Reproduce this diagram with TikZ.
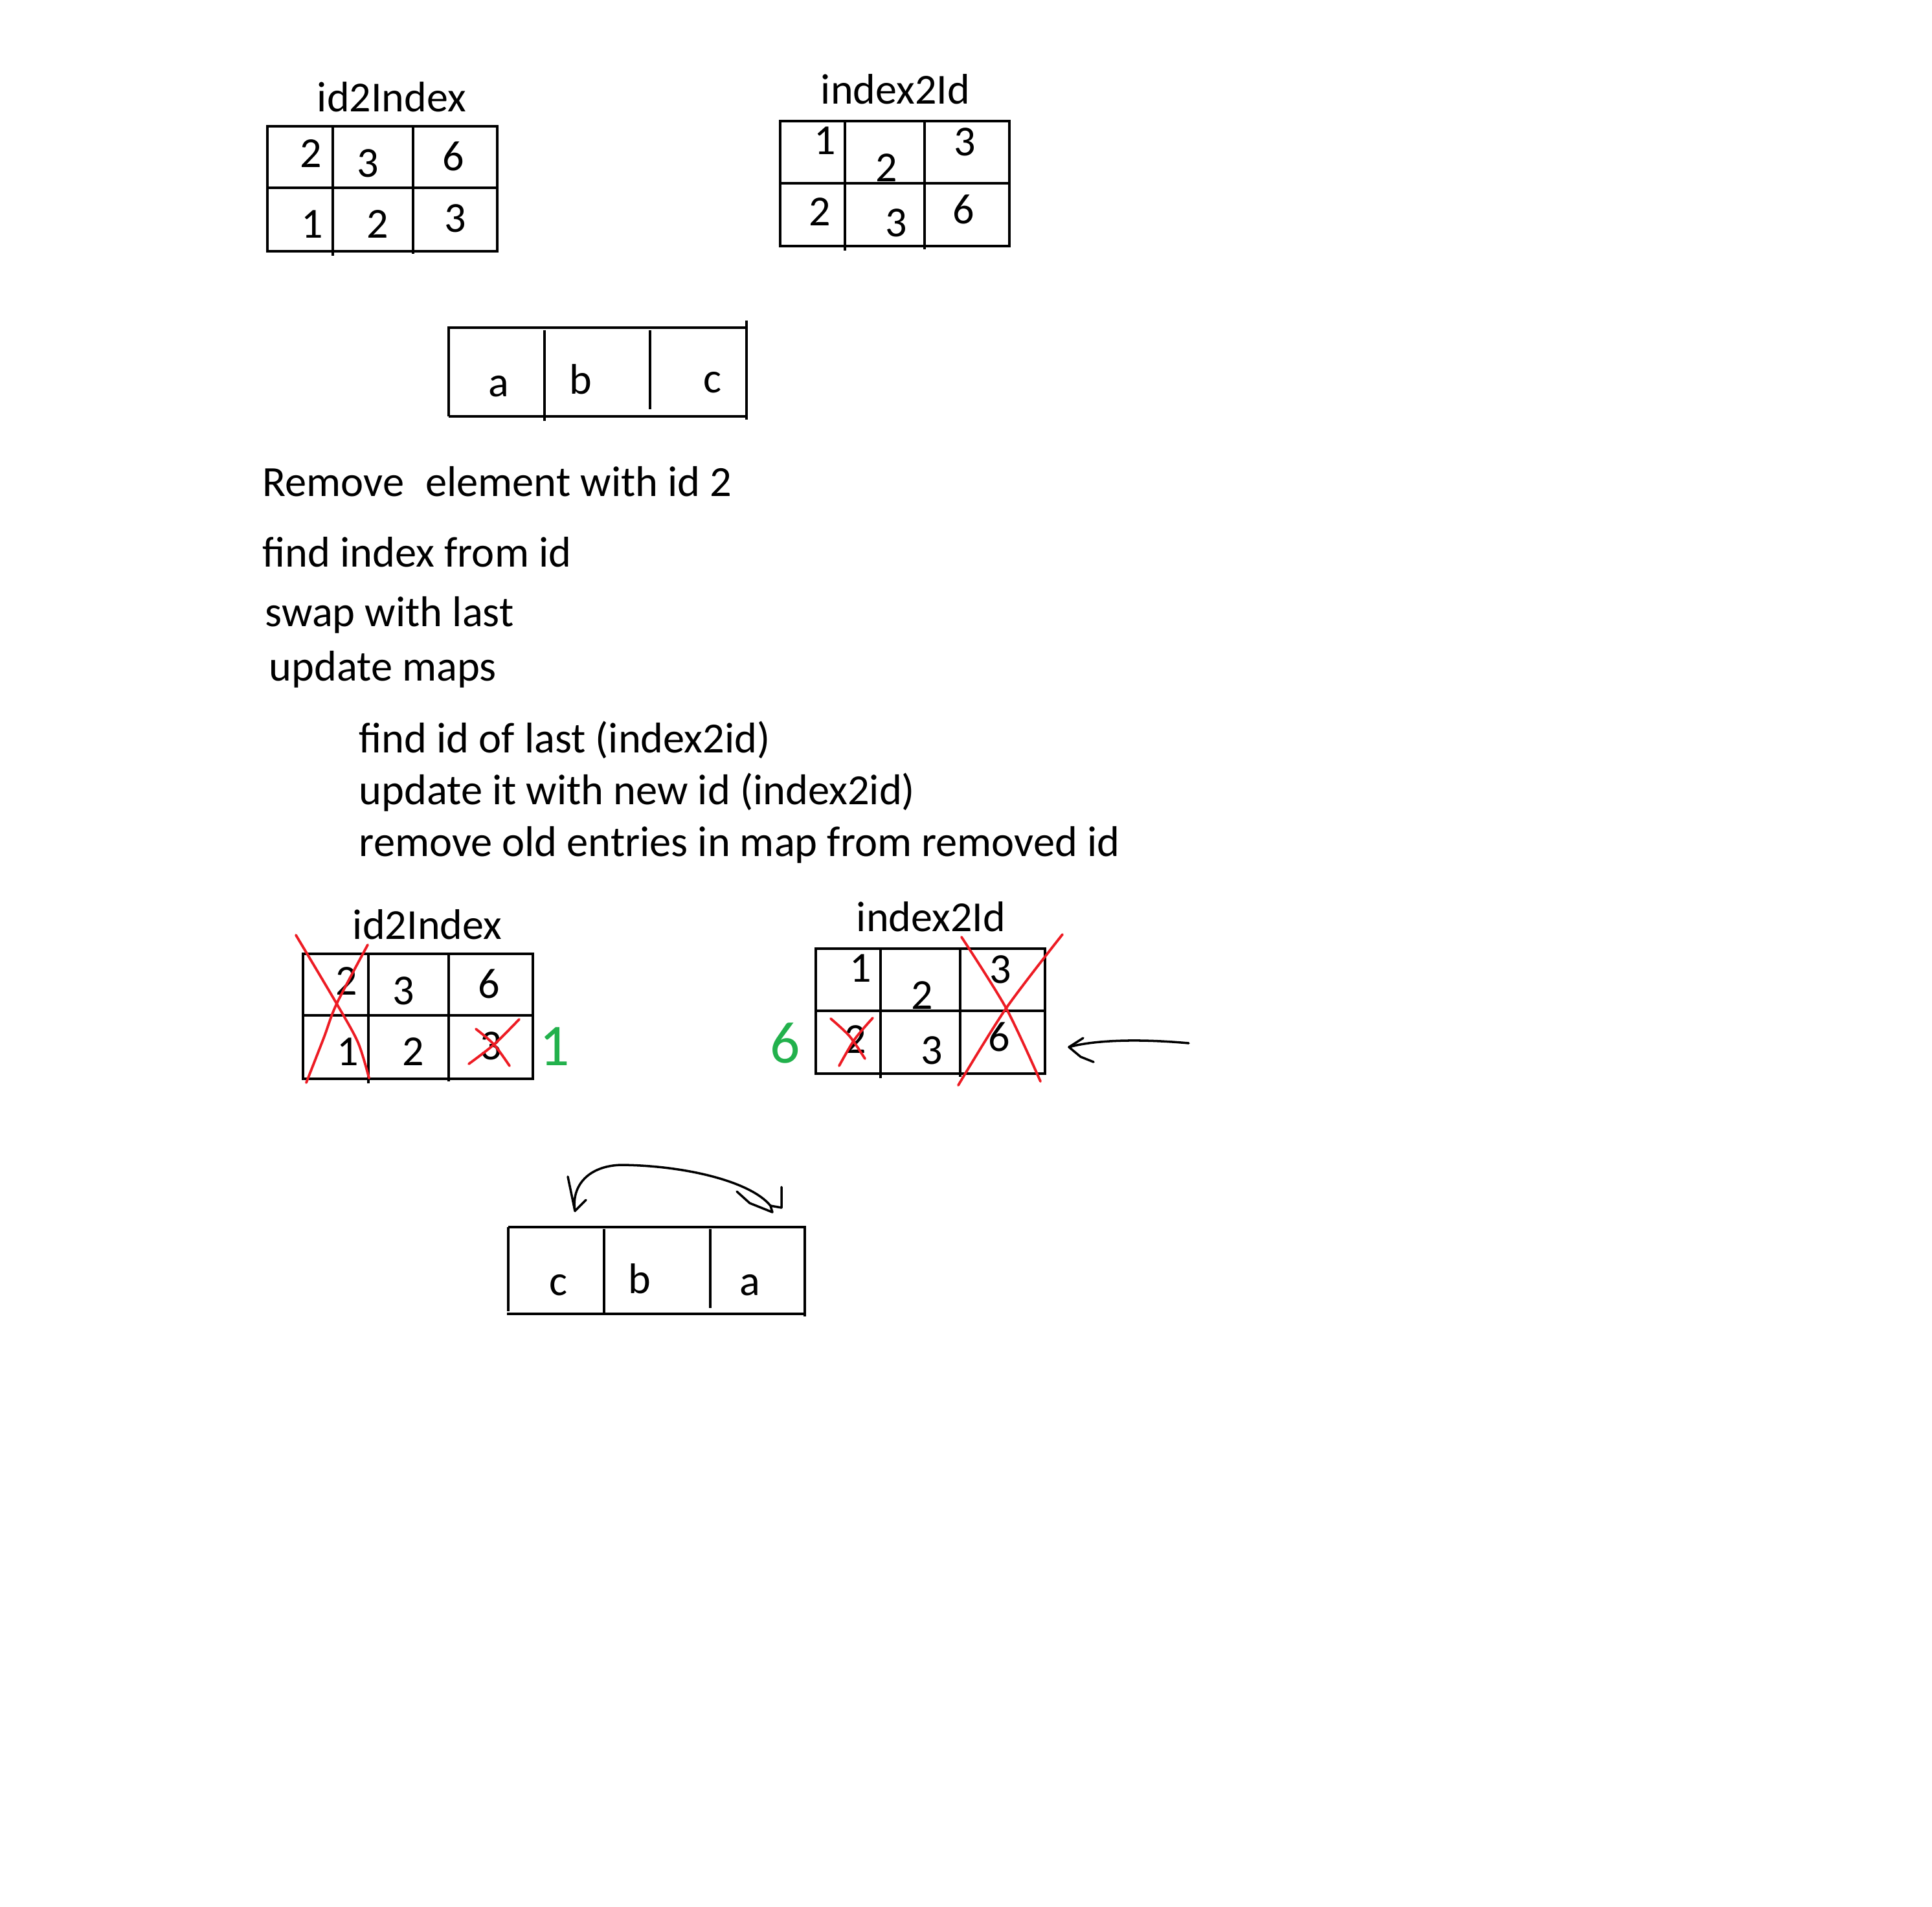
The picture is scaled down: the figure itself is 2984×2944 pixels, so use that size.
\documentclass[tikz,border=0pt]{standalone}
\usepackage{fontspec}
\setmainfont{Carlito}
\usepackage{tikz}
\usetikzlibrary{positioning}
\definecolor{penred}{RGB}{237,28,36}
\definecolor{pengreen}{RGB}{34,177,76}

\begin{document}
\begin{tikzpicture}[x=0.01cm, y=-0.01cm,
  box/.style={line width=1.3pt},
  cell/.style={anchor=base, inner sep=0pt, font=\fontsize{18.8}{22}\selectfont},
  note/.style={anchor=base west, inner sep=0pt, font=\fontsize{18.9}{22}\selectfont},
  strike/.style={penred, line width=1.1pt, line cap=round},
  hand/.style={line width=1pt, line cap=round, line join=round},
  scribble/.style={pengreen, inner sep=0pt, font=\fontsize{26}{30}\selectfont}]
  \fill[white] (0,0) rectangle (2984,2944);
  \useasboundingbox (0,0) rectangle (2984,2944);
  % Maps before
  \draw[box] (413,195) rectangle (768,388) (413,290) -- (768,290)
    (514,195) -- (514,395) (638,195) -- (638,392);
  \node[cell] (idxTitle) at (605,172) {id2Index};
  \node[cell] (idxA) at (480,258) {2};
  \node[cell] (idxB) at (568,273) {3};
  \node[cell] (idxC) at (700,263) {6};
  \node[cell] (idxD) at (482,367) {1};
  \node[cell] (idxE) at (583,367) {2};
  \node[cell] (idxF) at (703,358) {3};
  \draw[box] (1205,187) rectangle (1559,380) (1205,283) -- (1559,283)
    (1305,187) -- (1305,387) (1428,187) -- (1428,385);
  \node[cell] (revTitle) at (1383,160) {index2Id};
  \node[cell] (revA) at (1274,238) {1};
  \node[cell] (revB) at (1369,280) {2};
  \node[cell] (revC) at (1490,240) {3};
  \node[cell] (revD) at (1266,348) {2};
  \node[cell] (revE) at (1384,365) {3};
  \node[cell] (revF) at (1488,345) {6};
  % Array before
  \draw[box] (693,643) -- (693,506) -- (1153,506) (1153,495) -- (1153,648)
    (693,643) -- (1153,643) (841,510) -- (841,650) (1004,510) -- (1004,632);
  \node[cell] (arrA) at (770,612) {a};
  \node[cell] (arrB) at (897,608) {b};
  \node[cell] (arrC) at (1100,606) {c};
  % Steps
  \node[note] (stepRemove) at (405,766) {Remove\hspace{0.5em}element with id 2};
  \node[note] (stepFind) at (405,875) {find index from id};
  \node[note] (stepSwap) at (409,967) {swap with last};
  \node[note] (stepUpdate) at (415,1051) {update maps};
  \node[note] (subLast) at (554,1162) {find id of last (index2id)};
  \node[note] (subNew) at (554,1242) {update it with new id (index2id)};
  \node[note] (subOld) at (554,1322) {remove old entries in map from removed id};
  % Maps after
  \begin{scope}[shift={(55,1278)}]
    \draw[box] (413,195) rectangle (768,388) (413,290) -- (768,290)
      (514,195) -- (514,395) (638,195) -- (638,392);
    \node[cell] (idxTitle2) at (605,172) {id2Index};
    \node[cell] (idxA2) at (480,258) {2};
    \node[cell] (idxB2) at (568,273) {3};
    \node[cell] (idxC2) at (700,263) {6};
    \node[cell] (idxD2) at (482,367) {1};
    \node[cell] (idxE2) at (583,367) {2};
    \node[cell] (idxF2) at (703,358) {3};
    \draw[box] (1205,187) rectangle (1559,380) (1205,283) -- (1559,283)
      (1305,187) -- (1305,387) (1428,187) -- (1428,385);
    \node[cell] (revTitle2) at (1383,160) {index2Id};
    \node[cell] (revA2) at (1274,238) {1};
    \node[cell] (revB2) at (1369,280) {2};
    \node[cell] (revC2) at (1490,240) {3};
    \node[cell] (revD2) at (1266,348) {2};
    \node[cell] (revE2) at (1384,365) {3};
    \node[cell] (revF2) at (1488,345) {6};
  \end{scope}
  % Crossed out entries
  \draw[strike] plot[smooth] coordinates {(457,1444) (520,1550) (553,1610) (570,1665)};
  \draw[strike] plot[smooth] coordinates {(568,1459) (520,1550) (500,1603) (473,1672)};
  \draw[strike] plot[smooth] coordinates {(735,1589) (763,1613) (787,1646)};
  \draw[strike] plot[smooth] coordinates {(802,1574) (763,1613) (724,1643)};
  \draw[strike] plot[smooth] coordinates {(1283,1573) (1312,1600) (1336,1635)};
  \draw[strike] plot[smooth] coordinates {(1348,1572) (1320,1605) (1296,1646)};
  \draw[strike] plot[smooth] coordinates {(1485,1447) (1554,1557) (1607,1670)};
  \draw[strike] plot[smooth] coordinates {(1641,1443) (1554,1557) (1480,1676)};
  \node[scribble] (newIdx) at (857,1616) {1};
  \node[scribble] (newId) at (1213,1611) {6};
  % Pointer to last
  \coordinate (ptrTip) at (1651,1617);
  \coordinate (ptrTail) at (1836,1611);
  \draw[hand] (ptrTail) .. controls (1760,1604) and (1690,1606) .. (ptrTip);
  \draw[hand] (ptrTip) -- ++(22,-14) (ptrTip) -- ++(18,15) -- ++(20,8);
  % Array after
  \draw[box] (785,1895) -- (785,2025) (785,1895) -- (1243,1895) (1243,1893) -- (1243,2033)
    (783,2029) -- (1245,2029) (933,1898) -- (933,2028) (1097,1898) -- (1097,2020);
  \node[cell] (arrA2) at (862,2000) {c};
  \node[cell] (arrB2) at (988,1997) {b};
  \node[cell] (arrC2) at (1158,2000) {a};
  % Swap
  \coordinate (swapL) at (888,1870);
  \coordinate (swapR) at (1190,1862);
  \draw[hand] (swapR) .. controls (1160,1825) and (1060,1800) .. (960,1799)
    .. controls (910,1800) and (882,1830) .. (swapL);
  \draw[hand] (swapL) -- ++(-11,-53) (swapL) -- ++(17,-17);
  \draw[hand] (swapR) -- ++(17,3) -- ++(0,-32)
    (swapR) -- ++(3,10) -- ++(-35,-14) -- ++(-20,-18);
\end{tikzpicture}
\end{document}
